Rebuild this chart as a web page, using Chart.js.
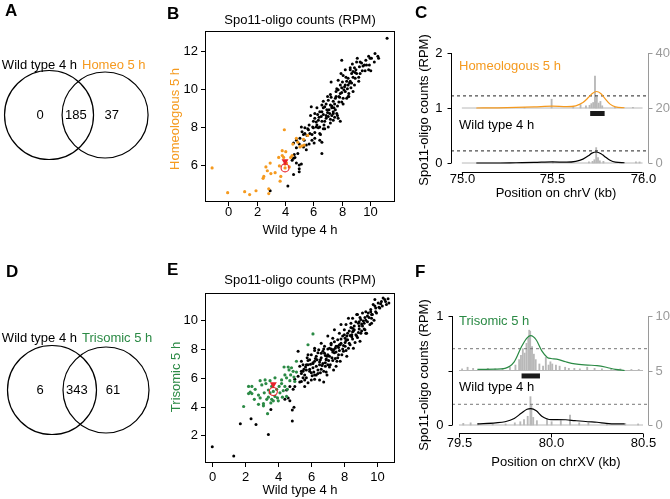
<!DOCTYPE html>
<html>
<head>
<meta charset="utf-8">
<script src="https://cdn.jsdelivr.net/npm/chart.js@4.4.1/dist/chart.umd.min.js"></script>
<style>
  body { margin: 0; width: 670px; height: 499px; background: #fff; position: relative; overflow: hidden; }
  canvas { position: absolute; left: 0; top: 0; }
</style>
</head>
<body>
<canvas id="cA" width="670" height="499"></canvas>
<canvas id="cB" width="670" height="499"></canvas>
<canvas id="cC" width="670" height="499"></canvas>
<canvas id="cD" width="670" height="499"></canvas>
<canvas id="cE" width="670" height="499"></canvas>
<canvas id="cF" width="670" height="499"></canvas>
<script>
// ---- data ----
// venn counts: [only wild type, both, only second]
const vennCountsA = [0, 185, 37];
const vennCountsD = [6, 343, 61];

// B: wild type 4 h (x) vs homeologous 5 h (y), log2 RPM
const bBlack = [[11.2,12.65],[8.0,11.5],[7.25,10.35],[8.75,11.3],[8.9,11.1],[8.7,10.8],[9.05,10.8],[9.2,10.4],[8.45,10.55],
  [8.35,10.4],[8.1,10.7],[8.25,10.2],[8.7,10.3],[8.95,10.55],[9.9,11.7],[10.1,11.6],[10.35,11.85],[10.55,11.7],[9.75,11.25],
  [9.65,10.95],[10.05,10.95],[9.9,11.0],[9.25,11.15],[8.6,11.0],[7.75,9.95],[7.9,9.75],[7.65,10.0],[8.0,10.05],[7.8,9.6],
  [8.1,9.5],[7.55,9.5],[7.4,9.35],[7.2,9.15],[7.05,9.4],[7.3,9.0],[7.55,8.9],[6.95,8.9],[6.8,9.05],[6.6,9.15],[6.45,8.8],
  [6.7,8.65],[7.05,8.55],[7.4,8.35],[7.75,8.45],[7.2,8.2],[6.8,8.3],[6.35,8.35],[6.1,8.45],[5.85,9.05],[6.25,8.1],[6.45,8.0],
  [6.0,7.95],[5.65,7.85],[5.4,7.95],[5.15,8.0],[5.2,7.75],[5.55,7.55],[5.75,7.65],[5.9,7.3],[6.45,7.3],[6.6,7.2],[5.5,7.05],
  [5.3,6.95],[4.8,6.9],[4.65,6.55],[4.6,6.35],[4.5,6.25],[5.15,6.05],[5.0,5.8],[5.0,5.65],[6.6,6.6],[2.95,4.65],[4.2,4.9],
  [8.35,9.5],[8.5,9.75],[8.65,10.05],[8.45,9.6],[7.75,10.45],[7.95,10.8],[8.25,11.0],[9.05,11.4],[7.4,8.7],[7.65,8.7],
  [7.9,8.3],[6.9,8.45],[6.3,8.65],[6.1,8.7],[5.7,8.1],[5.4,7.65],[4.8,7.3],[5.05,7.4],[4.6,7.15],[6.1,7.7],[6.45,7.65],
  [6.7,7.9],[7.05,8.0],[7.3,8.6],[7.0,8.75],[7.7,9.1],[8.0,9.3],[8.25,9.85],[8.8,10.6],[9.3,10.8],[8.8,9.85],[8.45,10.2],
  [9.4,11.35],[9.6,11.25],[9.95,11.25],[6.25,9.0],[6.7,9.35],[7.2,9.7],[6.6,8.8],[6.35,7.95],[6.9,8.6],[7.1,8.9],[7.3,9.1],
  [7.5,9.2],[7.6,9.6],[7.8,9.3],[8.0,9.8],[8.2,10.1],[8.4,10.0],[8.6,10.4],[8.3,10.6],[8.8,10.9],[9.0,11.0],[9.3,11.4],
  [9.5,11.2],[6.6,8.3],[6.4,8.5],[6.2,8.0],[6.0,8.3],[5.9,7.6],[5.6,7.9],[5.3,7.6],[5.0,7.1],[4.9,6.6],[4.7,6.4],[5.8,8.6],
  [6.7,9.0],[7.0,9.6],[7.4,8.8],[7.7,8.6],[8.1,9.2],[8.5,9.6],[8.9,10.2],[9.2,10.6],[9.7,11.5],[10.0,11.6],[10.3,11.4],
  [10.6,11.6],[7.2,8.4],[6.8,7.9],[6.5,7.6],[6.1,7.4],[5.7,7.1],[5.5,6.8],[4.8,6.1],[4.6,5.5],[5.0,6.0],[7.9,10.2],
  [8.6,11.1],[9.1,11.6],[6.9,9.2],[7.15,8.7],[7.45,9.0],[7.85,9.55],[8.15,9.95],[8.55,10.3],[8.05,10.35],[7.6,9.85],
  [6.55,8.55],[6.2,8.25],[5.95,8.0],[6.75,8.1],[7.5,8.5],[8.95,10.85],[9.45,10.95],[6.05,7.15],[5.35,7.3],[7.25,9.55]];
const bOrange = [[-1.15,5.85],[-0.05,4.55],[1.15,4.6],[1.5,4.45],[1.95,4.65],[2.45,5.3],[2.65,5.9],[2.75,5.7],[2.95,6.1],
  [3.0,5.55],[2.85,4.75],[2.85,4.5],[3.6,5.95],[3.65,5.15],[3.55,6.4],[3.8,6.75],[4.05,6.7],[3.8,6.5],[3.95,7.85],[4.3,5.9],
  [4.4,6.4],[4.55,7.1],[4.8,7.4],[5.05,6.95],[5.3,7.35],[5.35,7.05],[5.6,7.55],[4.0,5.85],[3.3,5.6],[3.7,5.4],[4.1,6.1],
  [4.5,6.5],[4.9,7.2],[5.2,7.0],[3.9,6.4],[2.5,5.4],[4.0,6.05]];
const bHotspot = [4.0, 5.85];   // circled hotspot
const bArrow = [4.0, 6.2];      // red arrowhead

// E: wild type 4 h (x) vs trisomic 5 h (y), log2 RPM
const eBlack = [[0.0,1.2],[1.3,0.55],[1.7,2.8],[2.35,3.15],[2.65,2.75],[3.4,2.05],[3.55,3.8],[4.85,3.0],[4.85,3.75],
  [4.95,3.95],[4.7,4.4],[4.5,5.15],[5.2,7.85],[5.3,6.8],[5.4,6.45],[5.5,6.0],[5.6,6.2],[5.7,6.55],[5.8,6.9],[5.9,7.25],
  [6.0,6.35],[6.1,6.7],[6.2,7.15],[6.3,7.5],[6.4,7.75],[6.5,6.9],[6.6,7.4],[6.7,7.85],[6.8,8.2],[6.9,7.25],[7.0,7.6],
  [7.1,8.05],[7.2,8.4],[7.3,8.75],[7.4,7.75],[7.5,8.2],[7.6,8.65],[7.7,9.1],[7.8,8.4],[7.9,8.9],[8.0,9.35],[8.1,9.7],
  [8.2,8.65],[8.3,9.25],[8.4,9.8],[8.5,10.15],[8.6,9.35],[8.7,9.9],[8.8,10.4],[8.9,9.6],[9.0,10.05],[9.1,10.5],[9.2,9.8],
  [9.3,10.6],[9.4,10.3],[9.6,10.75],[9.75,11.1],[9.85,11.45],[10.05,11.2],[10.25,11.3],[10.45,11.45],[10.55,11.1],
  [10.15,10.85],[9.95,10.5],[9.65,9.8],[8.75,10.4],[8.45,9.0],[8.05,8.2],[7.65,7.6],[7.25,7.4],[6.85,6.8],[6.4,6.55],
  [6.0,5.85],[5.6,5.85],[5.2,6.1],[5.4,7.15],[5.8,7.6],[6.2,8.05],[6.6,8.4],[7.0,8.9],[7.4,9.35],[7.8,9.7],[8.25,10.15],
  [7.55,7.15],[7.15,6.9],[6.75,6.45],[6.2,5.9],[6.5,5.85],[6.75,5.7],[5.8,5.65],[5.6,5.4],[5.4,5.75],[5.0,5.4],[4.7,5.4],
  [4.4,4.5],[4.6,4.6],[7.95,7.85],[8.35,8.3],[8.75,8.9],[9.05,9.25],[9.25,9.35],[9.55,9.7],[9.65,10.15],[8.85,9.8],
  [8.55,9.25],[8.15,8.9],[7.75,8.3],[7.35,7.95],[6.95,7.5],[6.55,7.25],[6.1,7.05],[5.7,6.9],[5.5,6.45],[5.9,6.45],
  [6.3,6.2],[6.95,6.2],[7.35,6.55],[7.75,7.15],[8.15,7.5],[8.55,8.05],[8.95,8.55],[9.35,9.1],[10.35,11.55],[10.65,11.5],
  [9.85,11.0],[5.9,6.6],[6.1,7.0],[6.3,6.8],[6.5,7.1],[6.7,7.0],[6.9,7.3],[7.1,7.5],[7.3,7.2],[7.5,7.8],[7.7,7.9],
  [7.9,8.0],[8.1,8.6],[8.3,8.4],[8.5,8.7],[8.7,9.0],[8.9,9.4],[9.1,9.6],[9.3,10.0],[9.5,10.2],[9.7,10.4],[9.9,10.6],
  [10.1,10.9],[10.3,11.0],[10.5,11.3],[10.7,11.2],[6.0,7.6],[6.2,7.9],[6.4,6.3],[6.6,6.6],[6.8,7.7],[7.0,8.0],[7.2,8.3],
  [7.4,8.5],[7.6,7.4],[7.8,8.7],[8.0,9.0],[8.2,9.1],[8.4,9.5],[8.6,9.6],[8.8,8.8],[9.0,9.1],[9.2,9.4],[9.4,9.9],[9.6,10.6],
  [9.8,10.0],[5.5,6.9],[5.7,6.0],[5.8,7.2],[6.6,7.7],[7.0,6.9],[7.3,7.8],[7.7,8.3],[8.1,7.9],[8.5,9.2],[8.9,9.9],[9.3,9.1],
  [6.2,6.2],[5.4,6.3],[5.0,5.9],[4.9,5.2],[5.3,5.7],[6.9,6.4],[7.5,6.8],
  [5.65,6.75],[5.95,6.95],[6.15,6.4],[6.35,7.25],[6.45,7.95],[6.65,6.85],[6.85,7.55],[7.05,7.2],[7.25,7.95],[7.45,7.35],
  [7.65,8.1],[7.85,7.6],[8.05,8.45],[8.25,8.05],[8.45,8.85],[8.65,8.45],[8.85,9.15],[9.05,9.75],[9.25,10.2],[9.45,10.5],
  [9.65,10.4],[9.9,10.85],[10.2,11.15],[6.05,6.15],[6.55,6.35],[7.1,6.75],[5.75,7.4],[6.25,7.35],[6.75,8.0],[7.2,8.0],
  [7.6,8.2],[8.05,8.75],[8.5,9.45],[8.95,10.2],[5.55,6.6],[6.85,7.05],[7.45,8.05],[7.95,8.25],[8.35,8.95],[9.15,9.95]];
const eGreen = [[1.9,4.0],[2.2,4.9],[2.2,5.4],[2.4,5.4],[2.4,4.9],[2.55,4.5],[2.8,4.15],[2.9,4.6],[3.1,4.05],[3.2,5.85],
  [3.25,5.6],[3.15,4.95],[3.4,5.15],[3.4,4.65],[3.35,3.5],[3.5,4.95],[3.6,4.5],[3.8,4.7],[3.9,5.2],[4.05,5.4],[4.1,4.95],
  [4.2,5.85],[4.25,4.65],[4.4,5.4],[4.5,6.0],[4.55,5.2],[4.35,6.75],[4.65,6.55],[4.75,6.2],[4.9,6.45],[4.95,6.05],
  [5.0,5.75],[5.1,7.15],[5.8,8.3],[6.1,9.05],[3.95,4.6],[3.55,4.25],[3.3,4.5],[4.6,6.75],[2.3,5.0],[2.6,5.2],[3.0,5.5],
  [3.5,5.8],[3.8,6.0],[4.2,5.6],[4.4,6.2],[4.7,5.8],[4.0,4.4],[3.7,4.4],[3.1,4.2],[2.8,4.8],[4.3,5.1],[4.8,6.7],[5.1,6.4],
  [3.6,5.4],[4.5,4.7],[2.9,5.8],[3.7,5.05]];
const eHotspot = [3.7, 5.05];
const eArrow = [3.7, 5.55];

// C: chrV 75.0-76.0 kb, smoothed profiles (left axis, RPM) and raw counts (grey spikes)
const cCurveX = [75.08, 75.2, 75.3, 75.4, 75.5, 75.58, 75.63, 75.67, 75.7, 75.72, 75.745, 75.77, 75.79, 75.82, 75.85, 75.9];
const cHomeoY = [1.0, 1.003, 1.01, 1.02, 1.035, 1.025, 1.04, 1.1, 1.19, 1.26, 1.3, 1.26, 1.18, 1.07, 1.02, 1.005];
const cWildY  = [0.0, 0.0, 0.005, 0.01, 0.02, 0.015, 0.03, 0.07, 0.13, 0.18, 0.2, 0.17, 0.12, 0.05, 0.015, 0.005];
const cHomeoSpikeX = [75.35, 75.5, 75.62, 75.66, 75.69, 75.71, 75.72, 75.73, 75.74, 75.745, 75.75, 75.76, 75.77, 75.78, 75.85, 75.95];
const cHomeoSpikeH = [0.01, 0.16, 0.02, 0.06, 0.04, 0.05, 0.08, 0.1, 0.58, 0.12, 0.2, 0.09, 0.12, 0.04, 0.01, 0.01];
const cWildSpikeX = [75.5, 75.7, 75.72, 75.73, 75.74, 75.75, 75.76, 75.78, 75.96, 75.98];
const cWildSpikeH = [0.02, 0.02, 0.03, 0.06, 0.28, 0.1, 0.04, 0.03, 0.02, 0.02];
const cThreshold = [1.22, 0.22];
const cHotspotSpan = [75.71, 75.79];

// F: chrXV 79.5-80.5 kb
const fCurveX = [79.6, 79.7, 79.75, 79.8, 79.84, 79.87, 79.89, 79.92, 79.95, 79.98, 80.0, 80.03, 80.08, 80.13, 80.2, 80.25, 80.3, 80.35, 80.4];
const fTriY  = [0.51, 0.512, 0.52, 0.58, 0.72, 0.8, 0.82, 0.78, 0.68, 0.62, 0.61, 0.605, 0.58, 0.56, 0.55, 0.545, 0.53, 0.51, 0.5];
const fWildY = [0.01, 0.02, 0.03, 0.06, 0.11, 0.145, 0.15, 0.13, 0.08, 0.055, 0.05, 0.05, 0.048, 0.04, 0.03, 0.025, 0.015, 0.01, 0.01];
const fTriSpikeX = [79.52, 79.55, 79.58, 79.62, 79.66, 79.7, 79.74, 79.78, 79.81, 79.83, 79.84, 79.85, 79.86, 79.87, 79.88,
  79.885, 79.89, 79.9, 79.91, 79.92, 79.94, 79.96, 79.975, 79.99, 80.0, 80.01, 80.03, 80.05, 80.08, 80.1, 80.13, 80.16,
  80.2, 80.24, 80.28, 80.33, 80.38, 80.44, 80.48];
const fTriSpikeH = [0.015, 0.03, 0.02, 0.01, 0.02, 0.015, 0.02, 0.03, 0.05, 0.1, 0.14, 0.2, 0.16, 0.25, 0.3,
  0.37, 0.36, 0.22, 0.15, 0.1, 0.06, 0.04, 0.12, 0.05, 0.08, 0.06, 0.05, 0.04, 0.03, 0.02, 0.02, 0.015,
  0.03, 0.02, 0.015, 0.01, 0.015, 0.01, 0.01];
const fWildSpikeX = [79.52, 79.56, 79.6, 79.68, 79.75, 79.8, 79.83, 79.85, 79.87, 79.885, 79.89, 79.9, 79.92, 79.975,
  80.0, 80.05, 80.1, 80.15, 80.2, 80.3, 80.4, 80.47];
const fWildSpikeH = [0.015, 0.02, 0.01, 0.01, 0.01, 0.02, 0.03, 0.05, 0.08, 0.26, 0.18, 0.07, 0.04, 0.06,
  0.03, 0.04, 0.09, 0.02, 0.02, 0.01, 0.015, 0.01];
const fThreshold = [0.7, 0.19];
const fHotspotSpan = [79.84, 79.94];

// ---- styling helpers ----
const FONT = '"Liberation Sans", Arial, sans-serif';
const ORANGE = '#f59a1f', GREEN = '#2b8a45', RED = '#e8202a', GREY = '#b8b8b8', AXGREY = '#9a9a9a';

function pad(l, t, r, b) { return { autoPadding: false, padding: { left: l, top: t, right: 670 - r, bottom: 499 - b } }; }

function txt(ctx, s, x, y, o) {
  o = o || {};
  ctx.save();
  ctx.font = (o.bold ? 'bold ' : '') + (o.size || 13) + 'px ' + FONT;
  ctx.fillStyle = o.color || '#000';
  ctx.textAlign = o.align || 'center';
  ctx.textBaseline = 'middle';
  ctx.translate(x, y);
  if (o.rot) ctx.rotate(o.rot);
  ctx.fillText(s, 0, 0);
  ctx.restore();
}
function seg(ctx, x1, y1, x2, y2, color) {
  ctx.beginPath();
  ctx.strokeStyle = color || '#000';
  ctx.moveTo(x1, y1); ctx.lineTo(x2, y2);
  ctx.stroke();
}

const baseOpts = {
  responsive: false, animation: false, events: [],
  plugins: { legend: { display: false }, tooltip: { enabled: false } }
};
const toPts = arr => arr.map(p => ({ x: p[0], y: p[1] }));

// ---- venn panels (bubble chart, two circles) ----
function venn(id, layout, xr, counts, countX, radii, texts) {
  new Chart(document.getElementById(id), {
    type: 'bubble',
    data: { datasets: [{
      data: [{ x: 0, y: 0, r: radii[0] }, { x: 1, y: 0, r: radii[1] }],
      backgroundColor: 'rgba(0,0,0,0)', borderColor: '#000', borderWidth: 1.2
    }] },
    options: Object.assign({}, baseOpts, {
      layout: layout,
      clip: false,
      scales: { x: { display: false, min: xr[0], max: xr[1] }, y: { display: false, min: -1, max: 1 } }
    }),
    plugins: [{ id: 'vennText', afterDraw(chart) {
      const ctx = chart.ctx, xs = chart.scales.x, ys = chart.scales.y;
      counts.forEach((c, i) => txt(ctx, String(c), xs.getPixelForValue(countX[i]), ys.getPixelForValue(0)));
      texts.forEach(t => txt(ctx, t[0], t[1], t[2], t[3]));
    } }]
  });
}

venn('cA', pad(0, 65, 160, 165), [-0.875, 1.98], vennCountsA, [-0.16, 0.48, 1.12], [44.5, 43],
  [['A', 5, 11, { bold: true, size: 17, align: 'left' }],
   ['Wild type 4 h', 77, 65, { align: 'right' }],
   ['Homeo 5 h', 82, 65, { align: 'left', color: ORANGE }]]);
venn('cD', pad(0, 340, 160, 440), [-0.963, 2.0], vennCountsD, [-0.22, 0.46, 1.13], [44.5, 43],
  [['D', 6, 272, { bold: true, size: 17, align: 'left' }],
   ['Wild type 4 h', 77, 338, { align: 'right' }],
   ['Trisomic 5 h', 82, 338, { align: 'left', color: GREEN }]]);

// ---- scatter panels ----
function scatter(id, layout, xr, yr, xTicks, yTicks, colour, colourPts, blackPts, hot, arrow, xLabGap, texts) {
  new Chart(document.getElementById(id), {
    type: 'scatter',
    data: { datasets: [
      { data: [{ x: arrow[0], y: arrow[1] }], pointStyle: 'triangle', rotation: 180, pointRadius: 4,
        backgroundColor: RED, borderColor: RED, borderWidth: 0 },
      { data: [{ x: hot[0], y: hot[1] }], pointRadius: 4, backgroundColor: 'rgba(0,0,0,0)', borderColor: RED, borderWidth: 1.1 },
      { data: toPts(colourPts), pointRadius: 1.6, backgroundColor: colour, borderWidth: 0 },
      { data: toPts(blackPts), pointRadius: 1.5, backgroundColor: '#000', borderWidth: 0 }
    ] },
    options: Object.assign({}, baseOpts, {
      layout: layout,
      scales: { x: { type: 'linear', display: false, min: xr[0], max: xr[1] },
                y: { type: 'linear', display: false, min: yr[0], max: yr[1] } }
    }),
    plugins: [{ id: 'boxAxes', afterDraw(chart) {
      const ctx = chart.ctx, a = chart.chartArea, xs = chart.scales.x, ys = chart.scales.y;
      ctx.save();
      ctx.lineWidth = 1;
      ctx.strokeStyle = '#000';
      ctx.strokeRect(a.left + 0.5, a.top + 0.5, a.right - a.left - 1, a.bottom - a.top - 1);
      xTicks.forEach(v => {
        const p = Math.round(xs.getPixelForValue(v)) + 0.5;
        seg(ctx, p, a.bottom, p, a.bottom + 4);
        txt(ctx, String(v), p, a.bottom + xLabGap);
      });
      yTicks.forEach(v => {
        const p = Math.round(ys.getPixelForValue(v)) + 0.5;
        seg(ctx, a.left - 4, p, a.left, p);
        txt(ctx, String(v), a.left - 7, p, { align: 'right' });
      });
      ctx.restore();
      texts.forEach(t => txt(ctx, t[0], t[1], t[2], t[3]));
    } }]
  });
}

scatter('cB', pad(205, 31, 395, 202), [-1.65, 11.76], [4.06, 13.03], [0, 2, 4, 6, 8, 10], [6, 8, 10, 12],
  ORANGE, bOrange, bBlack, bHotspot, bArrow, 10,
  [['B', 167, 14, { bold: true, size: 17, align: 'left' }],
   ['Spo11-oligo counts (RPM)', 300, 20],
   ['Wild type 4 h', 300, 230],
   ['Homeologous 5 h', 175, 119, { color: ORANGE, rot: -Math.PI / 2 }]]);
scatter('cE', pad(205, 293, 395, 463), [-0.44, 11.07], [0.07, 11.9], [0, 2, 4, 6, 8, 10], [2, 4, 6, 8, 10],
  GREEN, eGreen, eBlack, eHotspot, eArrow, 14,
  [['E', 167, 270, { bold: true, size: 17, align: 'left' }],
   ['Spo11-oligo counts (RPM)', 300, 280],
   ['Wild type 4 h', 300, 490],
   ['Trisomic 5 h', 176, 377, { color: GREEN, rot: -Math.PI / 2 }]]);

// ---- locus track panels ----
function track(id, o) {
  const spikes = (xs, hs, base) => xs.map((x, i) => ({ x: x, y: [base, base + hs[i]] }));
  const curve = (xs, ys) => xs.map((x, i) => ({ x: x, y: ys[i] }));
  const flat = (y, x0, x1) => [{ x: x0, y: y }, { x: x1, y: y }];
  const ds = [
    { type: 'line', data: curve(o.curveX, o.upperY), borderColor: o.colour, borderWidth: 1.2, pointRadius: 0, cubicInterpolationMode: 'monotone' },
    { type: 'line', data: curve(o.curveX, o.lowerY), borderColor: '#000', borderWidth: 1.2, pointRadius: 0, cubicInterpolationMode: 'monotone' },
    { type: 'line', data: flat(o.thr[0], o.xr[0], o.xr[1]), borderColor: o.dashCol, borderWidth: 1, borderDash: [3, 3], pointRadius: 0 },
    { type: 'line', data: flat(o.thr[1], o.xr[0], o.xr[1]), borderColor: o.dashCol, borderWidth: 1, borderDash: [3, 3], pointRadius: 0 },
    { type: 'line', data: flat(o.barY, o.span[0], o.span[1]), borderColor: '#1a1a1a', borderWidth: 5, borderCapStyle: 'butt', pointRadius: 0 },
    { type: 'bar', data: spikes(o.upSpX, o.upSpH, o.upperBase), backgroundColor: GREY, barThickness: 1.2 },
    { type: 'bar', data: spikes(o.loSpX, o.loSpH, 0), backgroundColor: GREY, barThickness: 1.2 },
    { type: 'line', data: flat(o.upperBase, o.ticksX[0], o.ticksX[2]), borderColor: GREY, borderWidth: 1, pointRadius: 0 },
    { type: 'line', data: flat(0, o.ticksX[0], o.ticksX[2]), borderColor: GREY, borderWidth: 1, pointRadius: 0 }
  ];
  new Chart(document.getElementById(id), {
    type: 'line',
    data: { datasets: ds },
    options: Object.assign({}, baseOpts, {
      layout: o.layout,
      clip: false,
      scales: { x: { type: 'linear', display: false, offset: false, min: o.xr[0], max: o.xr[1] },
                y: { type: 'linear', display: false, min: 0, max: o.yMax } }
    }),
    plugins: [{ id: 'trackAxes', afterDraw(chart) {
      const ctx = chart.ctx, a = chart.chartArea, xs = chart.scales.x, ys = chart.scales.y;
      ctx.save();
      ctx.lineWidth = 1;
      const L = Math.round(a.left) + 0.5, R = Math.round(a.right) + 0.5;
      const y0 = ys.getPixelForValue(0), y1 = ys.getPixelForValue(o.yMax);
      seg(ctx, L, y0, L, y1);
      seg(ctx, R, y0, R, y1, AXGREY);
      o.yTicks.forEach((v, i) => {
        const p = Math.round(ys.getPixelForValue(v)) + 0.5;
        seg(ctx, L - 4, p, L, p);
        if (o.leftLab[i]) txt(ctx, o.leftLab[i], L - 9, p, { align: 'right' });
        seg(ctx, R, p, R + 4, p, AXGREY);
        txt(ctx, o.rightLab[i], R + 7, p, { align: 'left', color: AXGREY });
      });
      const ax = o.xAxisY + 0.5;
      seg(ctx, xs.getPixelForValue(o.ticksX[0]), ax, xs.getPixelForValue(o.ticksX[2]), ax);
      o.ticksX.forEach(v => {
        const p = Math.round(xs.getPixelForValue(v)) + 0.5;
        seg(ctx, p, ax, p, ax + 4);
        txt(ctx, v.toFixed(1), p, o.xLabY);
      });
      ctx.restore();
      o.texts.forEach(t => txt(ctx, t[0], t[1], t[2], t[3]));
    } }]
  });
}

track('cC', {
  layout: pad(451, 53, 648, 163), xr: [74.94, 76.03], yMax: 2,
  curveX: cCurveX, upperY: cHomeoY, lowerY: cWildY, colour: ORANGE, upperBase: 1,
  upSpX: cHomeoSpikeX, upSpH: cHomeoSpikeH, loSpX: cWildSpikeX, loSpH: cWildSpikeH,
  thr: cThreshold, dashCol: '#222', span: cHotspotSpan, barY: 0.9,
  yTicks: [0, 1, 2], leftLab: ['0', '1', '2'], rightLab: ['0', '20', '40'],
  ticksX: [75.0, 75.5, 76.0], xAxisY: 172, xLabY: 179,
  texts: [['C', 415, 13, { bold: true, size: 17, align: 'left' }],
          ['Homeologous 5 h', 459, 66, { align: 'left', color: ORANGE }],
          ['Wild type 4 h', 459, 125, { align: 'left' }],
          ['Position on chrV (kb)', 556, 193],
          ['Spo11-oligo counts (RPM)', 424, 110, { rot: -Math.PI / 2 }]]
});
track('cF', {
  layout: pad(452, 316, 648, 425), xr: [79.462, 80.527], yMax: 1,
  curveX: fCurveX, upperY: fTriY, lowerY: fWildY, colour: GREEN, upperBase: 0.5,
  upSpX: fTriSpikeX, upSpH: fTriSpikeH, loSpX: fWildSpikeX, loSpH: fWildSpikeH,
  thr: fThreshold, dashCol: '#777', span: fHotspotSpan, barY: 0.45,
  yTicks: [0, 0.5, 1], leftLab: ['0', '', '1'], rightLab: ['0', '5', '10'],
  ticksX: [79.5, 80.0, 80.5], xAxisY: 433, xLabY: 443,
  texts: [['F', 415, 272, { bold: true, size: 17, align: 'left' }],
          ['Trisomic 5 h', 459, 321, { align: 'left', color: GREEN }],
          ['Wild type 4 h', 459, 387, { align: 'left' }],
          ['Position on chrXV (kb)', 556, 462],
          ['Spo11-oligo counts (RPM)', 424, 375, { rot: -Math.PI / 2 }]]
});
</script>
</body>
</html>
